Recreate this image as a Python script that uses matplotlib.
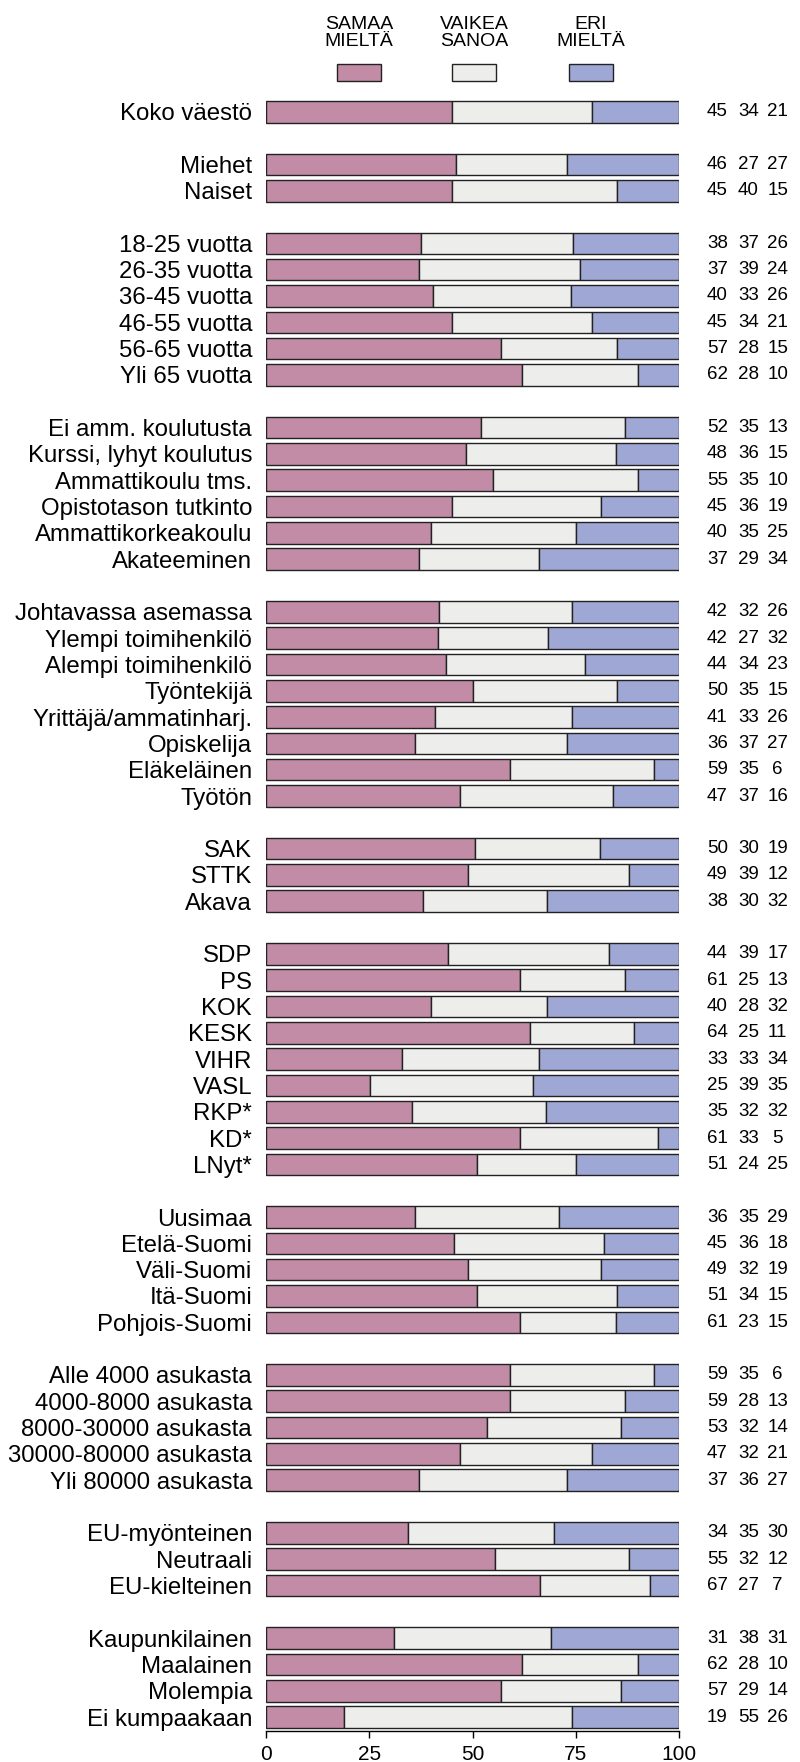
import numpy as np
import matplotlib
matplotlib.use('Agg')
import matplotlib.pyplot as plt
from matplotlib.patches import Rectangle

plt.rcParams['font.family'] = ['Liberation Sans', 'DejaVu Sans']

# DATA:
# ==================================================================
GROUPS = [
    ['Koko väestö'],
    ['Miehet', 'Naiset'],
    ['18-25 vuotta', '26-35 vuotta', '36-45 vuotta', '46-55 vuotta',
     '56-65 vuotta', 'Yli 65 vuotta'],
    ['Ei amm. koulutusta', 'Kurssi, lyhyt koulutus', 'Ammattikoulu tms.',
     'Opistotason tutkinto', 'Ammattikorkeakoulu', 'Akateeminen'],
    ['Johtavassa asemassa', 'Ylempi toimihenkilö', 'Alempi toimihenkilö',
     'Työntekijä', 'Yrittäjä/ammatinharj.', 'Opiskelija', 'Eläkeläinen',
     'Työtön'],
    ['SAK', 'STTK', 'Akava'],
    ['SDP', 'PS', 'KOK', 'KESK', 'VIHR', 'VASL', 'RKP*', 'KD*', 'LNyt*'],
    ['Uusimaa', 'Etelä-Suomi', 'Väli-Suomi', 'Itä-Suomi', 'Pohjois-Suomi'],
    ['Alle 4000 asukasta', '4000-8000 asukasta', '8000-30000 asukasta',
     '30000-80000 asukasta', 'Yli 80000 asukasta'],
    ['EU-myönteinen', 'Neutraali', 'EU-kielteinen'],
    ['Kaupunkilainen', 'Maalainen', 'Molempia', 'Ei kumpaakaan'],
]

SAMAA = [45,
         46, 45,
         38, 37, 40, 45, 57, 62,
         52, 48, 55, 45, 40, 37,
         42, 42, 44, 50, 41, 36, 59, 47,
         50, 49, 38,
         44, 61, 40, 64, 33, 25, 35, 61, 51,
         36, 45, 49, 51, 61,
         59, 59, 53, 47, 37,
         34, 55, 67,
         31, 62, 57, 19]

VAIKEA = [34,
          27, 40,
          37, 39, 33, 34, 28, 28,
          35, 36, 35, 36, 35, 29,
          32, 27, 34, 35, 33, 37, 35, 37,
          30, 39, 30,
          39, 25, 28, 25, 33, 39, 32, 33, 24,
          35, 36, 32, 34, 23,
          35, 28, 32, 32, 36,
          35, 32, 27,
          38, 28, 29, 55]

ERI = [21,
       27, 15,
       26, 24, 26, 21, 15, 10,
       13, 15, 10, 19, 25, 34,
       26, 32, 23, 15, 26, 27, 6, 16,
       19, 12, 32,
       17, 13, 32, 11, 34, 35, 32, 5, 25,
       29, 18, 19, 15, 15,
       6, 13, 14, 21, 27,
       30, 12, 7,
       31, 10, 14, 26]

LEGEND = ['SAMAA\nMIELTÄ', 'VAIKEA\nSANOA', 'ERI\nMIELTÄ']
COLORS = ['#C28CA7', '#EDEEEC', '#9FA8D4']

# ROW POSITIONS (ONE EMPTY ROW BETWEEN GROUPS):
# ==================================================================
LABELS, POS = [], []
k = 0
for grp in GROUPS:
    for name in grp:
        LABELS.append(name)
        POS.append(k)
        k += 1
    k += 1
POS = np.array(POS)

vals = np.array([SAMAA, VAIKEA, ERI], dtype=float)
pct = vals / vals.sum(axis=0) * 100.

# MAKE PLOT:
# ==================================================================
W, H = 800, 1762
fig = plt.figure(figsize=(W/100., H/100.), dpi=100)

ax_l, ax_r = 266./W, 679./W
ax_t, ax_b = 96., 1731.
ax = fig.add_axes([ax_l, 1 - ax_b/H, ax_r - ax_l, (ax_b - ax_t)/H])

left = np.zeros(len(POS))
for i in range(3):
    ax.barh(POS, pct[i], left=left, height=0.82, color=COLORS[i],
            edgecolor='#222222', linewidth=1.0)
    left = left + pct[i]

ax.set_xlim(0, 100)
ax.set_ylim(POS[-1] + 0.53, -0.6)
ax.set_xticks([0, 25, 50, 75, 100])
ax.set_yticks(POS)
ax.set_yticklabels(LABELS, fontsize=17.3)
ax.tick_params(axis='y', length=0, pad=10)
ax.tick_params(axis='x', length=5, width=1, pad=5, labelsize=15)
for s in ['top', 'right', 'left']:
    ax.spines[s].set_visible(False)
ax.spines['bottom'].set_linewidth(1.0)

# NUMBERS ON THE RIGHT:
XCOL = [109.3, 116.8, 123.9]
for j in range(len(POS)):
    for i in range(3):
        ax.text(XCOL[i], POS[j], '%i' % vals[i, j], ha='center', va='center',
                fontsize=13.5, clip_on=False)

# LEGEND:
BOX_X = [337, 452, 569]
for i in range(3):
    fig.add_artist(Rectangle((BOX_X[i]/W, 1 - 81./H), 44./W, 17./H,
                             transform=fig.transFigure, facecolor=COLORS[i],
                             edgecolor='#222222', linewidth=1.0))
    fig.text((BOX_X[i] + 22)/W, 1 - 33./H, LEGEND[i], ha='center', va='center',
             fontsize=14, linespacing=1.0, multialignment='center')

plt.savefig('out.png', dpi=100)
